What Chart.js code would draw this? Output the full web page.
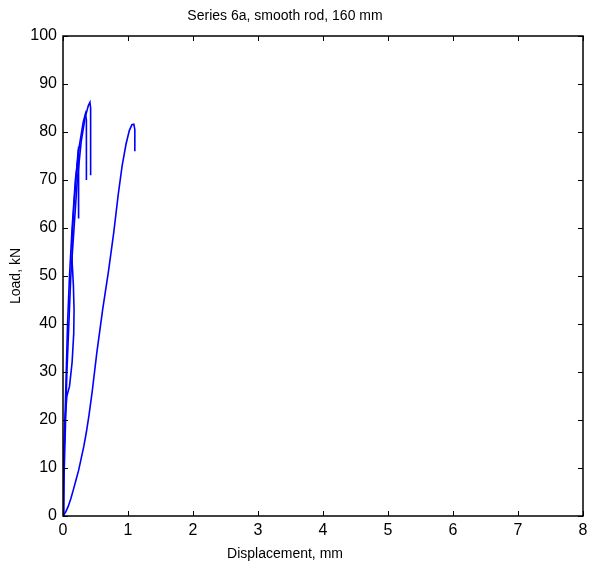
<!DOCTYPE html>
<html><head><meta charset="utf-8">
<script src="https://cdn.jsdelivr.net/npm/chart.js@4/dist/chart.umd.min.js"></script>
<style>html,body{margin:0;padding:0;background:#fff}#wrap{width:592px;height:571px}</style>
</head><body><div id="wrap"><canvas id="c" width="592" height="571"></canvas></div>
<script>
const titleText = "Series 6a, smooth rod, 160 mm";
const xLabel = "Displacement, mm";
const yLabel = "Load, kN";
const xTicks = [0,1,2,3,4,5,6,7,8];
const yTicks = [0,10,20,30,40,50,60,70,80,90,100];

const curve1X = [0,0.02,0.04,0.06,0.09,0.12,0.17,0.22,0.28,0.34,0.39,0.415,0.425,0.425];
const curve1Y = [0,10,20,30,40,50,60,70,78,83,85.5,86.2,85,71];
const curve2X = [0,0.01,0.03,0.05,0.07,0.10,0.14,0.19,0.25,0.31,0.345,0.36,0.36];
const curve2Y = [0,10,20,30,40,50,60,70,77,82,83.8,82.5,70];
const curve3X = [0,0.01,0.03,0.06,0.10,0.14,0.165,0.17,0.16,0.14,0.14,0.17,0.21,0.235,0.24,0.24];
const curve3Y = [0,10,20,25,27,32,38,43,48,53,58,65,72,76.5,77,62];
const curve4X = [0,0.04,0.08,0.12,0.16,0.20,0.24,0.28,0.32,0.36,0.40,0.45,0.52,0.61,0.70,0.78,0.85,0.91,0.97,1.02,1.06,1.09,1.105,1.105];
const curve4Y = [0,0.8,2,3.6,5.5,7.5,9.5,12,14.5,17.5,21,26,34,43,51,59,67,73,77.5,80.3,81.5,81.6,80.5,76];

function pts(xs, ys){ return xs.map((x,i)=>({x:x, y:ys[i]})); }
const blue = 'rgb(0,0,255)';
const mk = (xs,ys)=>({data:pts(xs,ys), borderColor:blue, borderWidth:1.6, pointRadius:0, showLine:true, fill:false, tension:0});
const FONT = 'Liberation Sans, Arial, Helvetica, sans-serif';

const boxPlugin = {
  id:'box',
  afterDraw(chart){
    const {ctx, chartArea:a, scales:{x,y}} = chart;
    ctx.save();
    ctx.strokeStyle = '#000'; ctx.lineWidth = 1;
    const L = 5;
    ctx.beginPath();
    xTicks.forEach(v=>{ const p = Math.round(x.getPixelForValue(v))+0.5;
      ctx.moveTo(p,a.bottom); ctx.lineTo(p,a.bottom-L);
      ctx.moveTo(p,a.top); ctx.lineTo(p,a.top+L); });
    yTicks.forEach(v=>{ const p = Math.round(y.getPixelForValue(v))+0.5;
      ctx.moveTo(a.left,p); ctx.lineTo(a.left+L,p);
      ctx.moveTo(a.right,p); ctx.lineTo(a.right-L,p); });
    ctx.stroke();
    ctx.lineWidth = 1.5;
    ctx.strokeRect(a.left, a.top, a.right-a.left, a.bottom-a.top);
    ctx.fillStyle = '#000';
    ctx.textAlign = 'center';
    ctx.textBaseline = 'alphabetic';
    ctx.font = '14px ' + FONT;
    ctx.fillText(titleText, 285, 20);
    ctx.fillText(xLabel, 285, 558);
    ctx.restore();
  }
};

new Chart(document.getElementById('c'), {
  type:'scatter',
  data:{datasets:[mk(curve1X,curve1Y), mk(curve2X,curve2Y), mk(curve3X,curve3Y), mk(curve4X,curve4Y)]},
  options:{
    responsive:false, animation:false,
    layout:{padding:{left:0,right:9,top:36,bottom:0}},
    plugins:{
      legend:{display:false}, tooltip:{enabled:false},
      title:{display:false, text:titleText}
    },
    scales:{
      x:{type:'linear', min:0, max:8,
        afterBuildTicks(s){ s.ticks = xTicks.map(v=>({value:v})); },
        afterFit(s){ s.height = 55; s.paddingLeft = 0; s.paddingRight = 0; },
        grid:{display:false, drawTicks:false},
        border:{display:false},
        ticks:{color:'#000', padding:5, maxRotation:0, font:{family:FONT, size:16}},
        title:{display:false, text:xLabel}
      },
      y:{type:'linear', min:0, max:100,
        afterBuildTicks(s){ s.ticks = yTicks.map(v=>({value:v})); },
        afterFit(s){ s.width = 63; s.paddingTop = 0; s.paddingBottom = 0; },
        grid:{display:false, drawTicks:false},
        border:{display:false},
        ticks:{color:'#000', padding:6, font:{family:FONT, size:16}},
        title:{display:true, text:yLabel, color:'#000', padding:{top:8,bottom:0}, font:{family:FONT, size:14}}
      }
    }
  },
  plugins:[boxPlugin]
});
</script></body></html>
